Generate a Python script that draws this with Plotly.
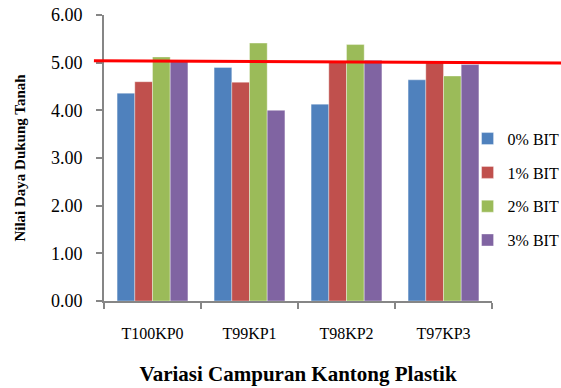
import plotly.graph_objects as go

categories = ["T100KP0", "T99KP1", "T98KP2", "T97KP3"]
series_names = ["0% BIT", "1% BIT", "2% BIT", "3% BIT"]
bit0 = [4.36, 4.90, 4.13, 4.64]
bit1 = [4.60, 4.59, 5.02, 5.02]
bit2 = [5.12, 5.41, 5.38, 4.72]
bit3 = [5.03, 4.00, 5.05, 4.96]
colors = ["#4F81BD", "#C0504D", "#9BBB59", "#8064A2"]
y_ticks = [0, 1, 2, 3, 4, 5, 6]
ref_line = [5.04, 4.99]  # red reference line, left and right ends

FONT = "Liberation Serif, Times New Roman, serif"

fig = go.Figure()
for name, vals, col in zip(series_names, [bit0, bit1, bit2, bit3], colors):
    fig.add_trace(go.Bar(
        x=categories, y=vals, name=name, legendgroup=name,
        marker=dict(color=col, line=dict(color="rgba(255,255,255,0.6)", width=0.6)),
    ))

fig.add_shape(type="line", xref="paper", yref="y",
              x0=-0.026, x1=1.2, y0=ref_line[0], y1=ref_line[1],
              line=dict(color="#FF0000", width=3))

fig.update_layout(
    width=561, height=388,
    margin=dict(l=104, r=69, t=15, b=87, autoexpand=False),
    paper_bgcolor="white", plot_bgcolor="white",
    barmode="group", bargap=0.27, bargroupgap=0,
    font=dict(family=FONT, color="black", size=16),
    showlegend=True,
    legend=dict(x=0.937, y=0.627, xanchor="left", yanchor="top",
                font=dict(size=16, family=FONT), tracegroupgap=10,
                traceorder="grouped", itemwidth=30,
                bgcolor="rgba(0,0,0,0)"),
    xaxis=dict(
        type="category", showline=True, linecolor="#868686", linewidth=2,
        ticks="outside", tickson="boundaries", ticklen=6, tickcolor="#868686",
        tickwidth=2, tickfont=dict(size=16, family=FONT), ticklabelstandoff=17,
        showgrid=False, zeroline=False,
        title=dict(text="<b>Variasi Campuran Kantong Plastik</b>",
                   font=dict(size=21, family=FONT), standoff=25),
    ),
    yaxis=dict(
        range=[0, 6], tickvals=y_ticks,
        ticktext=[f"{v:.2f}" for v in y_ticks],
        showline=True, linecolor="#868686", linewidth=2,
        ticks="outside", ticklen=6, tickcolor="#868686", tickwidth=2,
        tickfont=dict(size=18, family=FONT), ticklabelstandoff=10,
        showgrid=False, zeroline=False,
        title=dict(text="<b>Nilai Daya Dukung Tanah</b>",
                   font=dict(size=15, family=FONT), standoff=22),
    ),
)

fig.write_html("out.html")
